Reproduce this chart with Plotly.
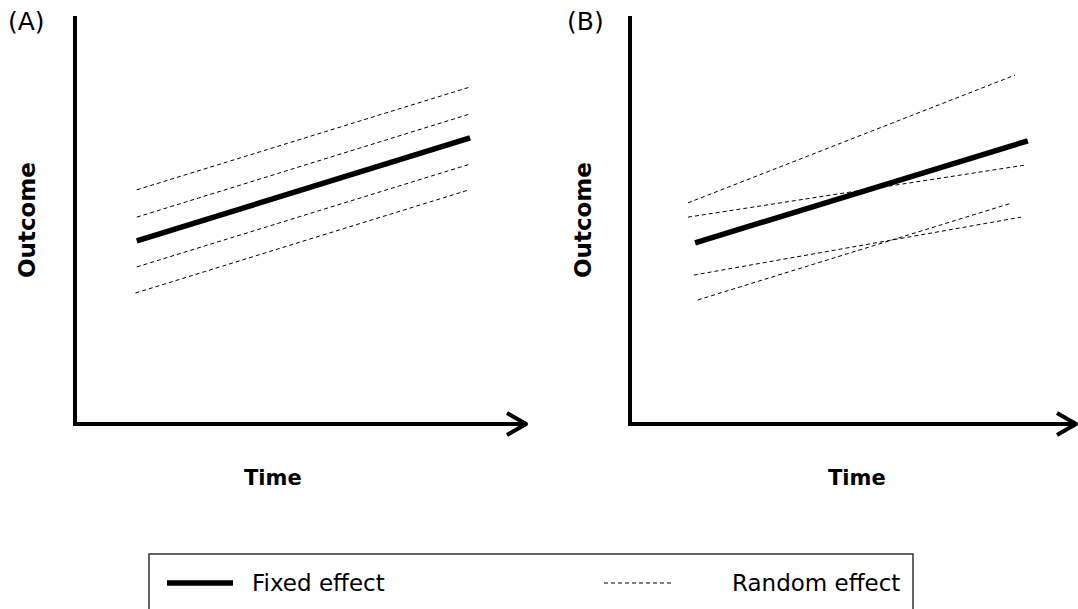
import plotly.graph_objects as go

# ---------------- data (arbitrary units: time 0..10, outcome 0..10) ----------------
# Panel A: random intercepts (parallel lines)
a_fixed_x = [1.37, 8.76]
a_fixed_y = [4.49, 7.01]
a_rand_x = [[1.37, 8.76], [1.37, 8.76], [1.37, 8.76], [1.34, 8.74]]
a_rand_y = [[5.74, 8.26], [5.07, 7.60], [3.85, 6.37], [3.21, 5.74]]

# Panel B: random intercepts and slopes
b_fixed_x = [1.46, 8.92]
b_fixed_y = [4.44, 6.94]
b_rand_x = [[1.30, 8.63], [1.30, 8.88], [1.43, 8.77], [1.52, 8.57]]
b_rand_y = [[5.42, 8.55], [5.07, 6.35], [3.65, 5.07], [3.04, 5.42]]

panel_labels = ["(A)", "(B)"]
x_title = "Time"
y_title = "Outcome"
legend_labels = ["Fixed effect", "Random effect"]

# ---------------- layout helpers (pixel geometry) ----------------
W, H = 1078, 609
FONT = "DejaVu Sans"

def px_x(p):
    return p / W

def px_y(p):
    return (H - p) / H

# panel geometry: origin pixel, pixels per unit
panels = [
    dict(ox=75, oy=424, sx=45.1, sy=40.8),
    dict(ox=630, oy=424, sx=44.6, sy=40.8),
]
XR = [-0.5, 10.04]
YR = [-1.5, 10.3]

fig = go.Figure()

ARROW_DX = 19
ARROW_DY = 11

def add_panel(i, fx, fy, rxs, rys):
    p = panels[i]
    xa = "x" if i == 0 else "x2"
    ya = "y" if i == 0 else "y2"
    fig.add_trace(go.Scatter(x=[0, 0, 10], y=[10, 0, 0], mode="lines",
                             line=dict(color="black", width=4),
                             xaxis=xa, yaxis=ya, showlegend=False, hoverinfo="skip"))
    dx = ARROW_DX / p["sx"]
    dy = ARROW_DY / p["sy"]
    fig.add_trace(go.Scatter(x=[10 - dx, 10, 10 - dx], y=[dy, 0, -dy], mode="lines",
                             line=dict(color="black", width=4),
                             xaxis=xa, yaxis=ya, showlegend=False, hoverinfo="skip"))
    for rx, ry in zip(rxs, rys):
        fig.add_trace(go.Scatter(x=rx, y=ry, mode="lines",
                                 line=dict(color="black", width=1, dash="4px,3px"),
                                 xaxis=xa, yaxis=ya, showlegend=False, hoverinfo="skip"))
    fig.add_trace(go.Scatter(x=fx, y=fy, mode="lines",
                             line=dict(color="black", width=5.5),
                             xaxis=xa, yaxis=ya, showlegend=False, hoverinfo="skip"))

add_panel(0, a_fixed_x, a_fixed_y, a_rand_x, a_rand_y)
add_panel(1, b_fixed_x, b_fixed_y, b_rand_x, b_rand_y)

def axis_domains(p):
    left = p["ox"] + XR[0] * p["sx"]
    right = p["ox"] + XR[1] * p["sx"]
    top = p["oy"] - YR[1] * p["sy"]
    bottom = p["oy"] - YR[0] * p["sy"]
    return [max(0, px_x(left)), min(1, px_x(right))], [max(0, px_y(bottom)), min(1, px_y(top))]

dA = axis_domains(panels[0])
dB = axis_domains(panels[1])
hidden = dict(visible=False, showgrid=False, zeroline=False, fixedrange=True)

fig.update_layout(
    width=W, height=H,
    margin=dict(l=0, r=0, t=0, b=0),
    paper_bgcolor="white", plot_bgcolor="white",
    showlegend=False,
    xaxis=dict(domain=dA[0], range=XR, **hidden),
    yaxis=dict(domain=dA[1], range=YR, **hidden),
    xaxis2=dict(domain=dB[0], range=XR, anchor="y2", **hidden),
    yaxis2=dict(domain=dB[1], range=YR, anchor="x2", **hidden),
)

ann = []
for lab, cx in zip(panel_labels, [26, 585]):
    ann.append(dict(text=lab, x=px_x(cx), y=px_y(22), xref="paper", yref="paper",
                    xanchor="center", yanchor="middle", showarrow=False,
                    font=dict(family=FONT, size=25, color="black")))
for cx in [27, 583]:
    ann.append(dict(text=f"<b>{y_title}</b>", x=px_x(cx), y=px_y(220), xref="paper", yref="paper",
                    xanchor="center", yanchor="middle", showarrow=False, textangle=-90,
                    font=dict(family=FONT, size=23, color="black")))
for cx in [273, 857]:
    ann.append(dict(text=f"<b>{x_title}</b>", x=px_x(cx), y=px_y(478), xref="paper", yref="paper",
                    xanchor="center", yanchor="middle", showarrow=False,
                    font=dict(family=FONT, size=21, color="black")))
for lab, lx in zip(legend_labels, [250, 730]):
    ann.append(dict(text=lab, x=px_x(lx), y=px_y(583), xref="paper", yref="paper",
                    xanchor="left", yanchor="middle", showarrow=False,
                    font=dict(family=FONT, size=23, color="black")))
fig.update_layout(annotations=ann)

shapes = [
    dict(type="rect", xref="paper", yref="paper",
         x0=px_x(149), x1=px_x(913), y0=px_y(620), y1=px_y(554),
         line=dict(color="#333333", width=1.5), fillcolor="rgba(0,0,0,0)"),
    dict(type="line", xref="paper", yref="paper",
         x0=px_x(167), x1=px_x(233), y0=px_y(583), y1=px_y(583),
         line=dict(color="black", width=5.5)),
    dict(type="line", xref="paper", yref="paper",
         x0=px_x(604), x1=px_x(673), y0=px_y(583), y1=px_y(583),
         line=dict(color="black", width=1, dash="4px,3px")),
]
fig.update_layout(shapes=shapes)

fig.write_html("out.html")
